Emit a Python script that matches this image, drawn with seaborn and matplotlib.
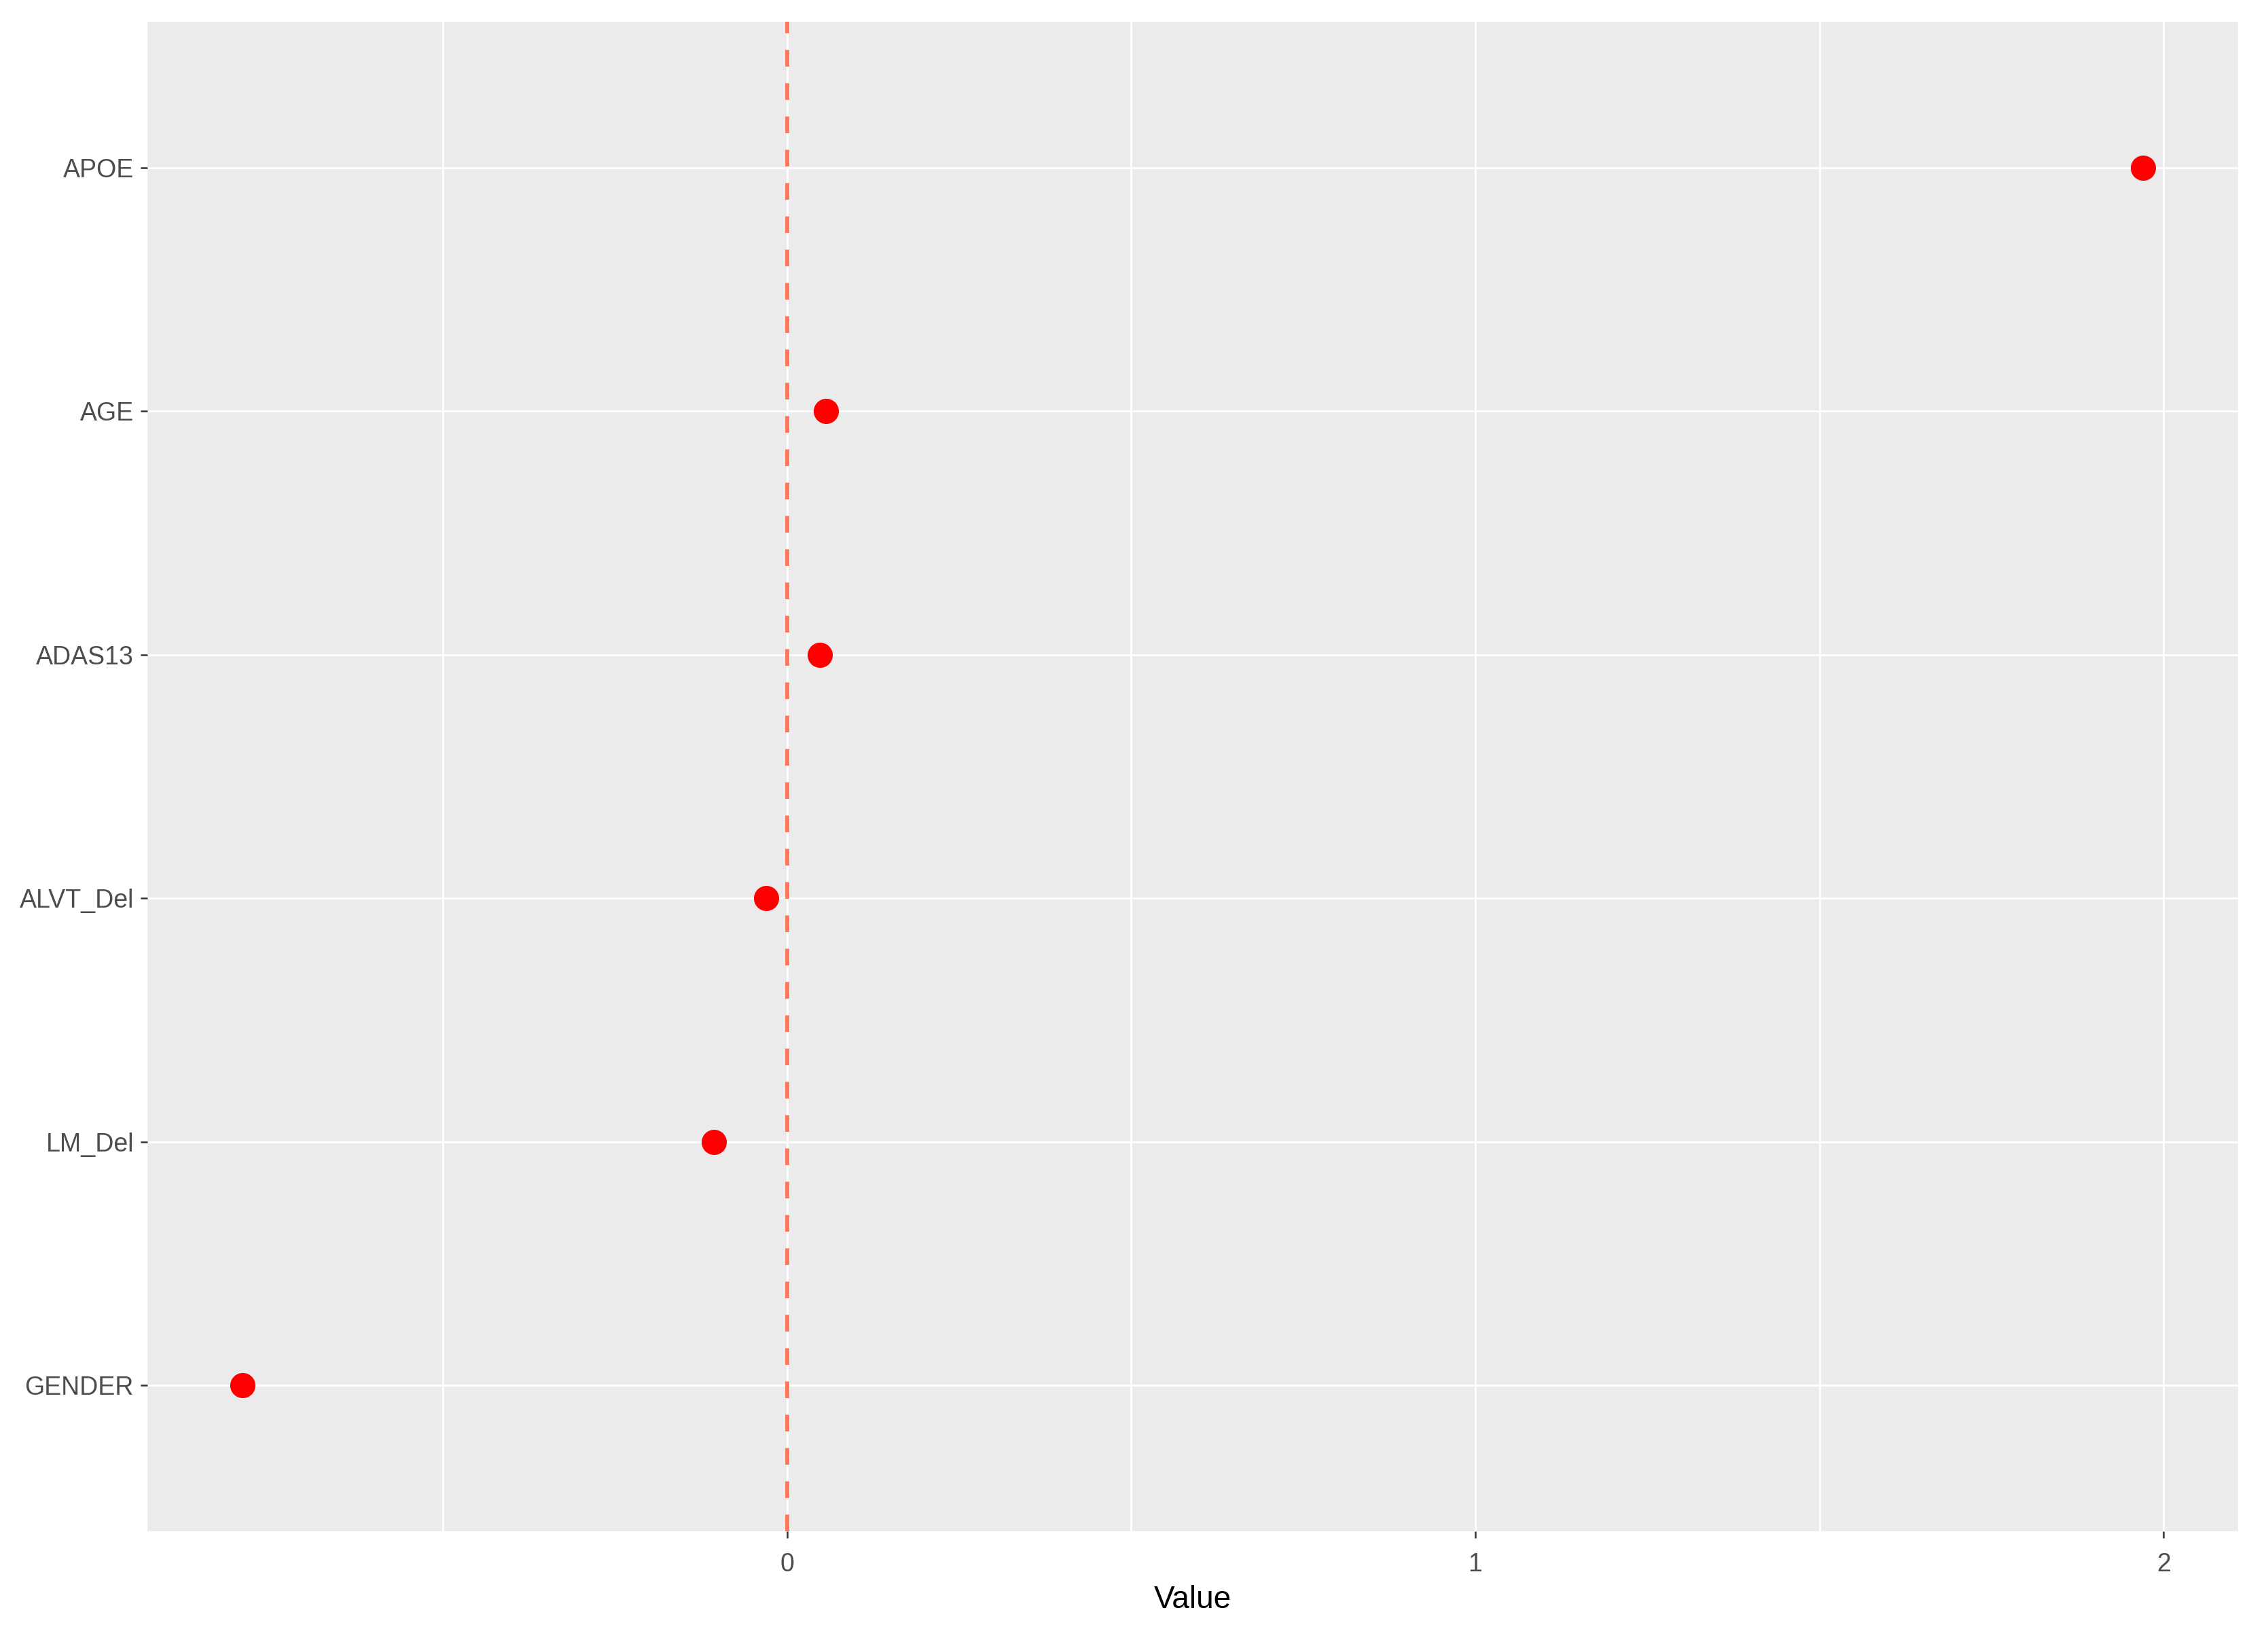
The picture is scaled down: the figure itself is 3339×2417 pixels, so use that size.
import numpy as np
import pandas as pd
import matplotlib.pyplot as plt
import seaborn as sns

# coefficient per variable
variables = ["APOE", "AGE", "ADAS13", "ALVT_Del", "LM_Del", "GENDER"]
values = [1.970, 0.057, 0.048, -0.030, -0.106, -0.791]

major_ticks = [0, 1, 2]
minor_ticks = [-0.5, 0.5, 1.5]

df = pd.DataFrame({"variable": variables, "value": values})

sns.set_theme(style="darkgrid", rc={
    "axes.facecolor": "#EBEBEB",
    "grid.color": "white",
    "axes.edgecolor": "#EBEBEB",
})
plt.rcParams['font.family'] = ['Liberation Sans', 'DejaVu Sans']

W, H = 3339, 2417
fig = plt.figure(figsize=(W / 300, H / 300), dpi=300)
ax = fig.add_axes([217 / W, 1 - 2254 / H, (3295 - 217) / W, (2254 - 32) / H])

# reference line at zero
ax.axvline(0, color="#FF7558", lw=1.4, ls=(0, (4.2, 4.2)), zorder=2)

sns.stripplot(data=df, x="value", y="variable", order=variables, jitter=False,
              color="red", size=8.9, linewidth=0, ax=ax, zorder=3)

lo, hi = min(values), max(values)
span = hi - lo
ax.set_xlim(lo - 0.05 * span, hi + 0.05 * span)
ax.set_ylim(len(variables) - 1 + 0.6, -0.6)

ax.set_xticks(major_ticks)
ax.set_xticks(minor_ticks, minor=True)
ax.grid(which="major", color="white", lw=0.65)
ax.grid(which="minor", axis="x", color="white", lw=0.65)
ax.set_axisbelow(True)

ax.tick_params(which="major", bottom=True, left=True, length=2.4, width=0.6,
               color="#333333", labelcolor="#4D4D4D", labelsize=9.0)
ax.tick_params(axis="x", pad=5)
ax.tick_params(axis="y", pad=2.4)
ax.tick_params(which="minor", bottom=False, left=False)

ax.set_xlabel("Value", fontsize=11, color="black", labelpad=3)
ax.set_ylabel("")
for s in ax.spines.values():
    s.set_visible(False)

fig.savefig("out.png", dpi=300)
